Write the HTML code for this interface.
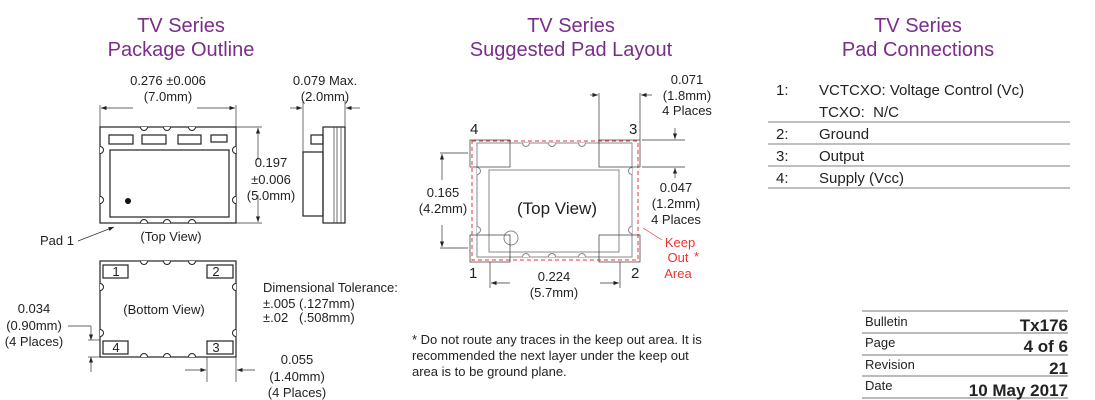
<!DOCTYPE html>
<html><head><meta charset="utf-8"><style>
html,body{margin:0;padding:0;background:#fff}
svg{display:block}
text{font-family:"Liberation Sans",sans-serif;fill:#222}
.t{fill:#7b2d8b;font-size:20px;text-anchor:middle}
.s{font-size:13px}
.m{text-anchor:middle}
.k{stroke:#222;fill:none;stroke-width:1.2}
.g{stroke:#888;fill:none;stroke-width:1}
.th{stroke:#333;fill:none;stroke-width:0.7}
.w{fill:#fff;stroke:#222;stroke-width:1}
</style></head><body>
<svg width="1095" height="400" viewBox="0 0 1095 400">
<defs><marker id="a" markerWidth="8" markerHeight="6" refX="8" refY="3" orient="auto"><path d="M0,0L8,3L0,6z" fill="#222"/></marker>
<clipPath id="c1"><rect x="100" y="127" width="136" height="96"/><rect x="100" y="261" width="136" height="96"/></clipPath>
<clipPath id="c2"><rect x="477" y="143" width="155" height="114"/></clipPath>
</defs>
<text class="t" x="181" y="32">TV Series</text><text class="t" x="181" y="56">Package Outline</text>
<text class="t" x="571" y="32">TV Series</text><text class="t" x="571" y="56">Suggested Pad Layout</text>
<text class="t" x="918" y="32">TV Series</text><text class="t" x="918" y="56">Pad Connections</text>

<text class="s m" x="168" y="85">0.276 ±0.006</text><text class="s m" x="168" y="101">(7.0mm)</text>
<line class="th" x1="100" y1="105" x2="100" y2="128"/><line class="th" x1="236" y1="105" x2="236" y2="128"/>
<line class="th" x1="133" y1="108" x2="101" y2="108" marker-end="url(#a)"/><line class="th" x1="197" y1="108" x2="235" y2="108" marker-end="url(#a)"/>
<rect class="k" x="100" y="127" width="136" height="96"/>
<rect class="k" x="110" y="150" width="119" height="67"/>
<rect class="k" x="100" y="261" width="136" height="96"/>
<g class="w" clip-path="url(#c1)">
<circle cx="144" cy="127" r="3.5"/><circle cx="167" cy="127" r="3.5"/><circle cx="192" cy="127" r="3.5"/>
<circle cx="144" cy="223" r="3.5"/><circle cx="167" cy="223" r="3.5"/><circle cx="192" cy="223" r="3.5"/>
<circle cx="100" cy="150" r="3.5"/><circle cx="100" cy="200" r="3.5"/><circle cx="236" cy="150" r="3.5"/><circle cx="236" cy="200" r="3.5"/>
<circle cx="144" cy="261" r="3.5"/><circle cx="167" cy="261" r="3.5"/><circle cx="192" cy="261" r="3.5"/>
<circle cx="144" cy="357" r="3.5"/><circle cx="167" cy="357" r="3.5"/><circle cx="192" cy="357" r="3.5"/>
<circle cx="100" cy="287" r="3.5"/><circle cx="100" cy="333" r="3.5"/><circle cx="236" cy="287" r="3.5"/><circle cx="236" cy="333" r="3.5"/>
</g>
<rect class="k" x="109" y="135" width="24" height="9"/><rect class="k" x="142" y="135" width="24" height="9"/>
<rect class="k" x="178" y="135" width="23" height="9"/><rect class="k" x="211" y="135" width="16" height="7"/>
<circle cx="128" cy="201" r="3" fill="#111"/>
<line class="th" x1="236" y1="127" x2="262" y2="127"/><line class="th" x1="236" y1="223" x2="262" y2="223"/>
<line class="th" x1="258" y1="160" x2="258" y2="128" marker-end="url(#a)"/><line class="th" x1="258" y1="195" x2="258" y2="222" marker-end="url(#a)"/>
<text class="s m" x="271" y="167">0.197</text><text class="s m" x="271" y="184">±0.006</text><text class="s m" x="271" y="200">(5.0mm)</text>
<text class="s" x="40" y="245">Pad 1</text>
<line class="th" x1="78" y1="241" x2="114" y2="227" marker-end="url(#a)"/>
<text class="s m" x="171" y="241">(Top View)</text>
<text class="s m" x="325" y="85">0.079 Max.</text><text class="s m" x="325" y="101">(2.0mm)</text>
<line class="th" x1="303" y1="100" x2="303" y2="152"/><line class="th" x1="345" y1="100" x2="345" y2="128"/>
<line class="th" x1="290" y1="108" x2="302" y2="108" marker-end="url(#a)"/><line class="th" x1="360" y1="108" x2="346" y2="108" marker-end="url(#a)"/>
<rect class="k" x="303" y="152" width="20" height="64"/>
<rect class="k" x="323" y="127" width="22" height="96"/>
<line class="th" x1="334" y1="127" x2="334" y2="223"/><line class="th" x1="337" y1="127" x2="337" y2="223"/><line class="th" x1="341" y1="127" x2="341" y2="223"/>
<rect class="k" x="311" y="135" width="12" height="9"/>
<rect class="k" x="103" y="265" width="25" height="13"/><text class="s m" x="116" y="276">1</text>
<rect class="k" x="207" y="265" width="26" height="13"/><text class="s m" x="216" y="276">2</text>
<rect class="k" x="103" y="341" width="25" height="13"/><text class="s m" x="116" y="352">4</text>
<rect class="k" x="207" y="341" width="26" height="13"/><text class="s m" x="216" y="352">3</text>
<text class="s m" x="164" y="314">(Bottom View)</text>
<text class="s" x="263" y="292">Dimensional Tolerance:</text>
<text class="s" x="263" y="308">±.005 (.127mm)</text><text class="s" x="263" y="322">±.02 &#160;&#160;(.508mm)</text>
<text class="s m" x="34" y="313">0.034</text><text class="s m" x="34" y="330">(0.90mm)</text><text class="s m" x="34" y="346">(4 Places)</text>
<line class="th" x1="68" y1="326" x2="91" y2="326"/><line class="th" x1="91" y1="326" x2="91" y2="340" marker-end="url(#a)"/>
<line class="th" x1="91" y1="372" x2="91" y2="357" marker-end="url(#a)"/>
<line class="th" x1="88" y1="340" x2="100" y2="340"/><line class="th" x1="88" y1="357" x2="100" y2="357"/>
<line class="th" x1="207" y1="357" x2="207" y2="382"/><line class="th" x1="236" y1="357" x2="236" y2="382"/>
<line class="th" x1="185" y1="370" x2="206" y2="370" marker-end="url(#a)"/><line class="th" x1="255" y1="370" x2="237" y2="370" marker-end="url(#a)"/>
<text class="s m" x="297" y="364">0.055</text><text class="s m" x="297" y="381">(1.40mm)</text><text class="s m" x="297" y="397">(4 Places)</text>

<rect class="g" x="477" y="143" width="155" height="114" />
<rect class="g" x="489" y="170" width="130" height="82"/>
<g fill="#fff" stroke="#888" clip-path="url(#c2)">
<circle cx="526" cy="143" r="3.5"/><circle cx="552" cy="143" r="3.5"/><circle cx="582" cy="143" r="3.5"/>
<circle cx="526" cy="257" r="3.5"/><circle cx="552" cy="257" r="3.5"/><circle cx="582" cy="257" r="3.5"/>
<circle cx="477" cy="171" r="3.5"/><circle cx="477" cy="230" r="3.5"/><circle cx="632" cy="171" r="3.5"/><circle cx="632" cy="230" r="3.5"/>
</g>
<circle class="g" cx="511" cy="238" r="7"/>
<rect x="472" y="141" width="166" height="119" fill="none" stroke="#e33" stroke-width="1" stroke-dasharray="4,3"/>
<rect class="th" x="470" y="140" width="40" height="27"/><rect class="th" x="599" y="140" width="41" height="27"/>
<rect class="th" x="470" y="235" width="40" height="27"/><rect class="th" x="599" y="235" width="41" height="27"/>
<text x="470" y="134" style="font-size:15px">4</text><text x="629" y="134" style="font-size:15px">3</text>
<text x="469" y="278" style="font-size:15px">1</text><text x="631" y="278" style="font-size:15px">2</text>
<text class="m" x="557" y="214" style="font-size:17px">(Top View)</text>
<line class="th" x1="440" y1="153" x2="468" y2="153"/><line class="th" x1="440" y1="248" x2="468" y2="248"/>
<line class="th" x1="442" y1="180" x2="442" y2="154" marker-end="url(#a)"/><line class="th" x1="442" y1="225" x2="442" y2="247" marker-end="url(#a)"/>
<text class="s m" x="443" y="197">0.165</text><text class="s m" x="443" y="213">(4.2mm)</text>
<line class="th" x1="490" y1="262" x2="490" y2="288"/><line class="th" x1="620" y1="262" x2="620" y2="288"/>
<line class="th" x1="510" y1="283" x2="491" y2="283" marker-end="url(#a)"/><line class="th" x1="600" y1="283" x2="619" y2="283" marker-end="url(#a)"/>
<text class="s m" x="554" y="281">0.224</text><text class="s m" x="554" y="297">(5.7mm)</text>
<line class="th" x1="599" y1="93" x2="599" y2="140"/><line class="th" x1="640" y1="93" x2="640" y2="140"/>
<line class="th" x1="590" y1="95" x2="598" y2="95" marker-end="url(#a)"/><line class="th" x1="652" y1="95" x2="641" y2="95" marker-end="url(#a)"/>
<text class="s m" x="687" y="84">0.071</text><text class="s m" x="687" y="100">(1.8mm)</text><text class="s m" x="687" y="115">4 Places</text>
<line class="th" x1="642" y1="140" x2="685" y2="140"/><line class="th" x1="642" y1="167" x2="685" y2="167"/>
<line class="th" x1="675" y1="128" x2="675" y2="139" marker-end="url(#a)"/><line class="th" x1="675" y1="178" x2="675" y2="168" marker-end="url(#a)"/>
<text class="s m" x="676" y="192">0.047</text><text class="s m" x="676" y="208">(1.2mm)</text><text class="s m" x="676" y="224">4 Places</text>
<line x1="662" y1="240" x2="643" y2="228" stroke="#e33" stroke-width="0.7"/>
<text class="s m" x="680" y="247" style="fill:#e33">Keep</text><text class="s m" x="678" y="262" style="fill:#e33">Out</text><text class="s" x="694" y="261" style="fill:#e33">*</text><text class="s m" x="678" y="278" style="fill:#e33">Area</text>
<text class="s" x="412" y="344">* Do not route any traces in the keep out area. It is</text>
<text class="s" x="412" y="360">recommended the next layer under the keep out</text>
<text class="s" x="412" y="376">area is to be ground plane.</text>

<g style="font-size:15px">
<text x="776" y="95">1:</text><text x="819" y="95">VCTCXO: Voltage Control (Vc)</text>
<text x="819" y="117">TCXO:&#160; N/C</text>
<text x="776" y="139">2:</text><text x="819" y="139">Ground</text>
<text x="776" y="161">3:</text><text x="819" y="161">Output</text>
<text x="776" y="183">4:</text><text x="819" y="183">Supply (Vcc)</text>
</g>
<g stroke="#555" stroke-width="0.8">
<line x1="768" y1="122" x2="1070" y2="122"/><line x1="768" y1="144" x2="1070" y2="144"/>
<line x1="768" y1="166" x2="1070" y2="166"/><line x1="768" y1="188" x2="1070" y2="188"/>
</g>
<g stroke="#777" stroke-width="1">
<line x1="862" y1="311" x2="1068" y2="311"/><line x1="862" y1="333" x2="1068" y2="333"/>
<line x1="862" y1="355" x2="1068" y2="355"/><line x1="862" y1="376" x2="1068" y2="376"/>
<line x1="862" y1="398" x2="1068" y2="398"/>
</g>
<g style="font-size:13px"><text x="865" y="326">Bulletin</text><text x="865" y="347">Page</text><text x="865" y="369">Revision</text><text x="865" y="390">Date</text></g>
<g style="font-size:17px;text-anchor:end;font-weight:bold"><text x="1068" y="331">Tx176</text><text x="1068" y="352">4 of 6</text><text x="1068" y="374">21</text><text x="1068" y="396">10 May 2017</text></g>
</svg>
</body></html>
